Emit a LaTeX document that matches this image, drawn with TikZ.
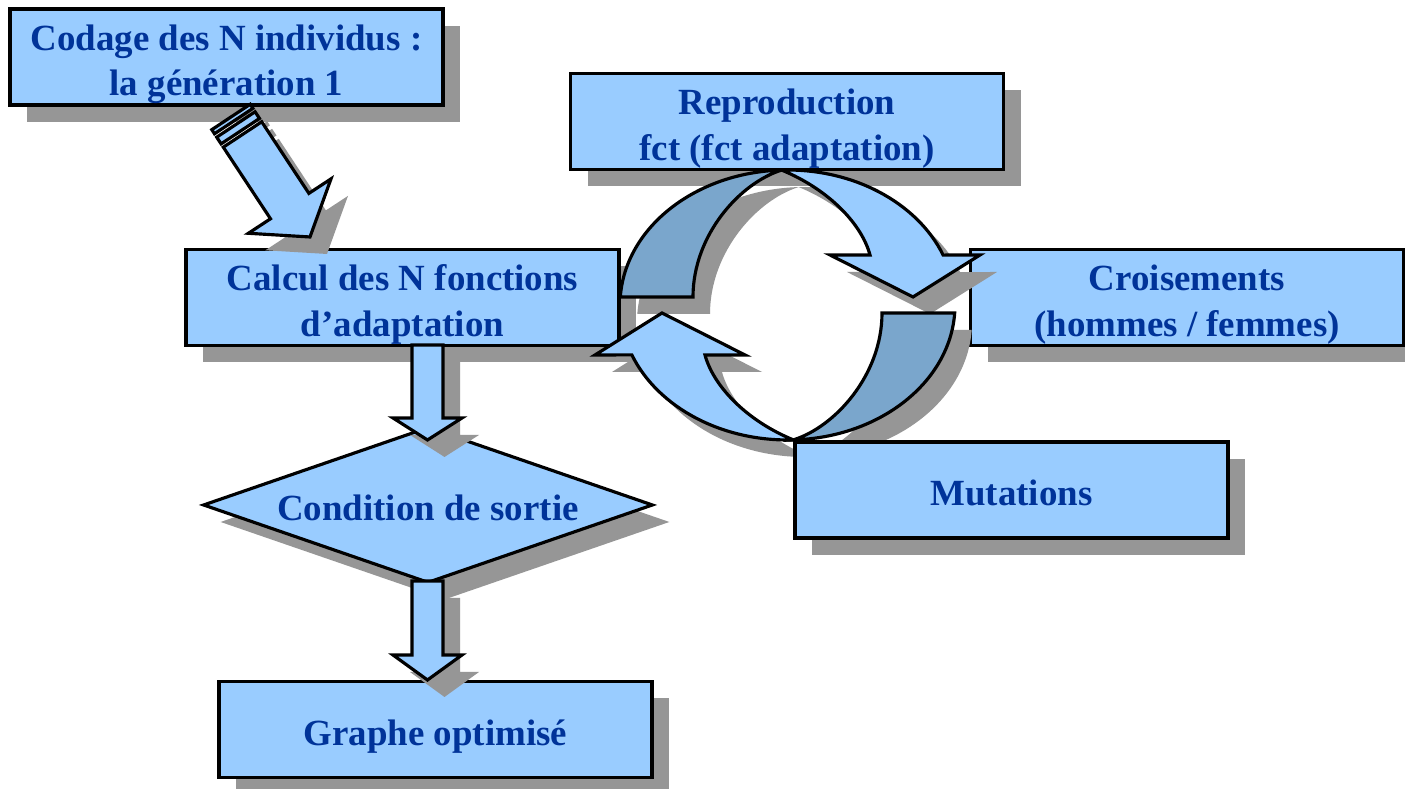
\documentclass[tikz,border=0pt]{standalone}
\usepackage{fontspec}
\setmainfont{Liberation Serif}
\usepackage{xcolor}
\usetikzlibrary{shapes.geometric,shadows}
\definecolor{boxblue}{RGB}{153, 204, 255}
\definecolor{ringblue}{RGB}{122, 166, 204}
\definecolor{shadowgray}{RGB}{150, 150, 150}
\definecolor{textblue}{RGB}{0, 51, 153}
\newcommand{\topstrut}{\rule{0pt}{0.40cm}}
\newcommand{\bottomstrut}{\rule[-0.08cm]{0pt}{0.08cm}}

\tikzset{
    shadowed/.style={drop shadow={shadow xshift=0.17cm, shadow yshift=-0.17cm, fill=shadowgray, opacity=1, draw=none}},
    stepbox/.style={rectangle, draw=black, line width=0.9pt, fill=boxblue, minimum width=4.33cm, minimum height=0.96cm,
        inner sep=0pt, align=center, text=textblue, font=\fontsize{10.5}{13}\selectfont\bfseries,
        execute at begin node=\topstrut, execute at end node=\bottomstrut, shadowed},
    testbox/.style={stepbox, diamond, minimum width=4.5cm, minimum height=1.56cm, aspect=2.88},
    blockarrow/.style={draw=black, line width=0.9pt, fill=boxblue, line join=miter, shadowed},
}

\begin{document}
\begin{tikzpicture}
        \fill[white] (0, 0) rectangle (14.05, 7.89);
        \useasboundingbox (0, 0) rectangle (14.05, 7.89);

        % Left column: the loop of the algorithm
        \node[stepbox] (codage) at (2.265, 7.32) {\topstrut Codage des N individus :\\la génération 1};
        \node[stepbox] (calcul) at (4.025, 4.915) {\topstrut Calcul des N fonctions\\d’adaptation};

        % Striped arrow from the coding to the fitness step
        \filldraw[blockarrow] (2.502, 6.847) -- (2.529, 6.806) -- (2.145, 6.552) -- (2.118, 6.593) -- cycle;
        \filldraw[blockarrow] (2.551, 6.772) -- (2.595, 6.705) -- (2.211, 6.451) -- (2.167, 6.518) -- cycle;
        \filldraw[blockarrow] (2.617, 6.672) -- (3.089, 5.956) -- (3.310, 6.101) -- (3.100, 5.520)
            -- (2.484, 5.557) -- (2.705, 5.702) -- (2.233, 6.418) -- cycle;

        % Exit test
        \node[testbox] (sortie) at (4.28, 2.84) {Condition de sortie};
        \filldraw[blockarrow] (4.12, 4.44) -- (4.12, 3.71) -- (3.93, 3.71) -- (4.275, 3.49)
            -- (4.62, 3.71) -- (4.43, 3.71) -- (4.43, 4.44) -- cycle;

        % Result
        \node[stepbox] (graphe) at (4.355, 0.595) {Graphe optimisé};
        \filldraw[blockarrow] (4.12, 2.08) -- (4.12, 1.34) -- (3.93, 1.34) -- (4.275, 1.09)
            -- (4.62, 1.34) -- (4.43, 1.34) -- (4.43, 2.08) -- cycle;

        % Right part: genetic operators
        \node[stepbox] (repro) at (7.87, 6.675) {\topstrut Reproduction\\fct (fct adaptation)};
        \node[stepbox] (crois) at (11.87, 4.915) {\topstrut Croisements\\(hommes / femmes)};

        % Circular arrows, upper one
        \filldraw[blockarrow, fill=ringblue] (6.203, 4.92) arc[start angle=176.6, end angle=92, x radius=1.675, y radius=1.35]
            .. controls (7.40, 6.06) and (6.93, 5.54) .. (6.93, 4.92) -- cycle;
        \filldraw[blockarrow] (7.817, 6.189) arc[start angle=92, end angle=21.7, x radius=1.675, y radius=1.35]
            -- (9.80, 5.34) -- (9.13, 4.92) -- (8.30, 5.34) -- (8.70, 5.34)
            .. controls (8.62, 5.64) and (8.30, 5.99) .. (7.817, 6.189) -- cycle;

        % Circular arrows, lower one
        \filldraw[blockarrow, fill=ringblue] (9.547, 4.76) arc[start angle=-3.4, end angle=-88, x radius=1.675, y radius=1.35]
            .. controls (8.35, 3.62) and (8.82, 4.14) .. (8.82, 4.76) -- cycle;
        \filldraw[blockarrow] (7.933, 3.491) arc[start angle=-88, end angle=-158.3, x radius=1.675, y radius=1.35]
            -- (5.95, 4.34) -- (6.62, 4.76) -- (7.45, 4.34) -- (7.05, 4.34)
            .. controls (7.13, 4.04) and (7.45, 3.69) .. (7.933, 3.491) -- cycle;

        \node[stepbox] (mutations) at (10.115, 2.99) {Mutations};
\end{tikzpicture}
\end{document}
